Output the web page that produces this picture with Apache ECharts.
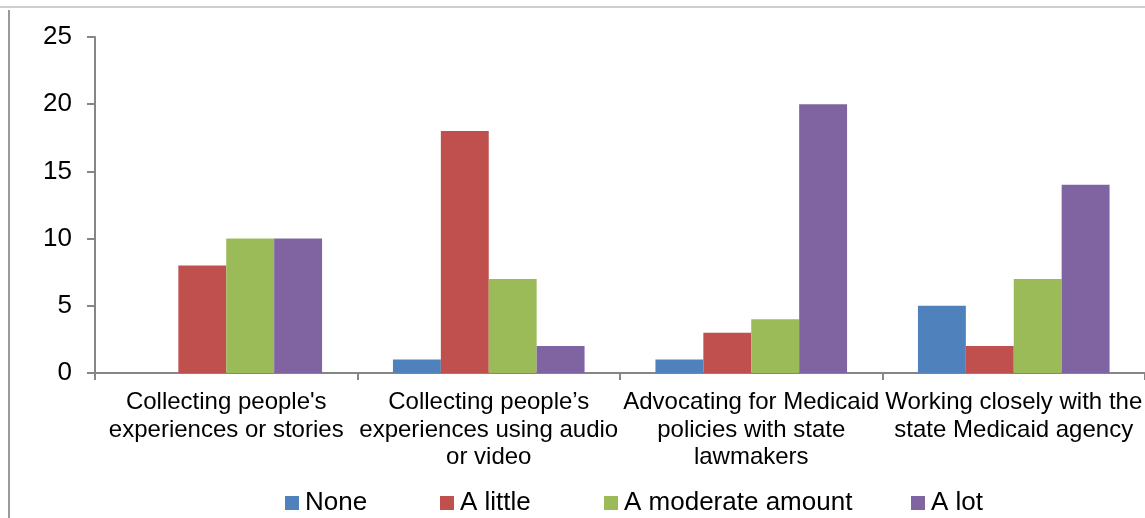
<!DOCTYPE html>
<html>
<head>
<meta charset="utf-8">
<style>
  html, body { margin: 0; padding: 0; background: #fff; }
  #chart { width: 1145px; height: 518px; }
</style>
<script src="https://cdn.jsdelivr.net/npm/echarts@6/dist/echarts.min.js"></script>
</head>
<body>
<div id="chart"></div>
<script>
const categories = [
  "Collecting people's\nexperiences or stories",
  'Collecting people\u2019s\nexperiences using audio\nor video',
  'Advocating for Medicaid\npolicies with state\nlawmakers',
  'Working closely with the\nstate Medicaid agency'
]
const seriesNames = ['None', 'A little', 'A moderate amount', 'A lot']
const noneValues = [0, 1, 1, 5]
const littleValues = [8, 18, 3, 2]
const moderateValues = [10, 7, 4, 7]
const lotValues = [10, 2, 20, 14]
const yTicks = [0, 5, 10, 15, 20, 25]

const colors = ['#4F81BD', '#C0504D', '#9BBB59', '#8064A2']
const allValues = [noneValues, littleValues, moderateValues, lotValues]
const font = '"Liberation Sans", Arial, sans-serif'
const axisGray = '#868686'

const chart = echarts.init(document.getElementById('chart'))

// legend slots, like excel spreads them
const legendLefts = [285, 440, 604, 911]

const option = {
  animation: false,
  backgroundColor: '#fff',
  textStyle: { fontFamily: font },
  graphic: [
    {
      type: 'line',
      shape: { x1: 0, y1: 7, x2: 1145, y2: 7 },
      style: { stroke: '#cfcfcf', lineWidth: 2 }
    },
    {
      type: 'line',
      shape: { x1: 9, y1: 10, x2: 9, y2: 518 },
      style: { stroke: '#9a9a9a', lineWidth: 2 }
    }
  ],
  legend: seriesNames.map((name, i) => ({
    data: [name],
    left: legendLefts[i],
    top: 490,
    padding: 0,
    itemWidth: 14,
    itemHeight: 14,
    itemGap: 0,
    icon: 'rect',
    textStyle: { fontFamily: font, fontSize: 26, color: '#000', padding: [0, 0, 0, 1] }
  })),
  grid: {
    left: 95,
    top: 37,
    width: 1053,
    bottom: 145,
    containLabel: false
  },
  xAxis: {
    type: 'category',
    data: categories,
    axisLine: { lineStyle: { color: axisGray, width: 2 } },
    axisTick: { show: true, length: 7, lineStyle: { color: axisGray, width: 2 } },
    axisLabel: {
      interval: 0,
      color: '#000',
      fontFamily: font,
      fontSize: 24,
      lineHeight: 27.5,
      margin: 16
    }
  },
  yAxis: {
    type: 'value',
    min: yTicks[0],
    max: yTicks[yTicks.length - 1],
    interval: 5,
    splitLine: { show: false },
    axisLine: { show: true, lineStyle: { color: axisGray, width: 2 } },
    axisTick: { show: true, length: 8, lineStyle: { color: axisGray, width: 2 } },
    axisLabel: {
      color: '#000',
      fontFamily: font,
      fontSize: 26,
      margin: 23
    }
  },
  series: seriesNames.map((name, i) => ({
    name: name,
    type: 'bar',
    data: allValues[i],
    barGap: '0%',
    barCategoryGap: '27%',
    itemStyle: { color: colors[i] }
  }))
}

chart.setOption(option)
</script>
</body>
</html>
